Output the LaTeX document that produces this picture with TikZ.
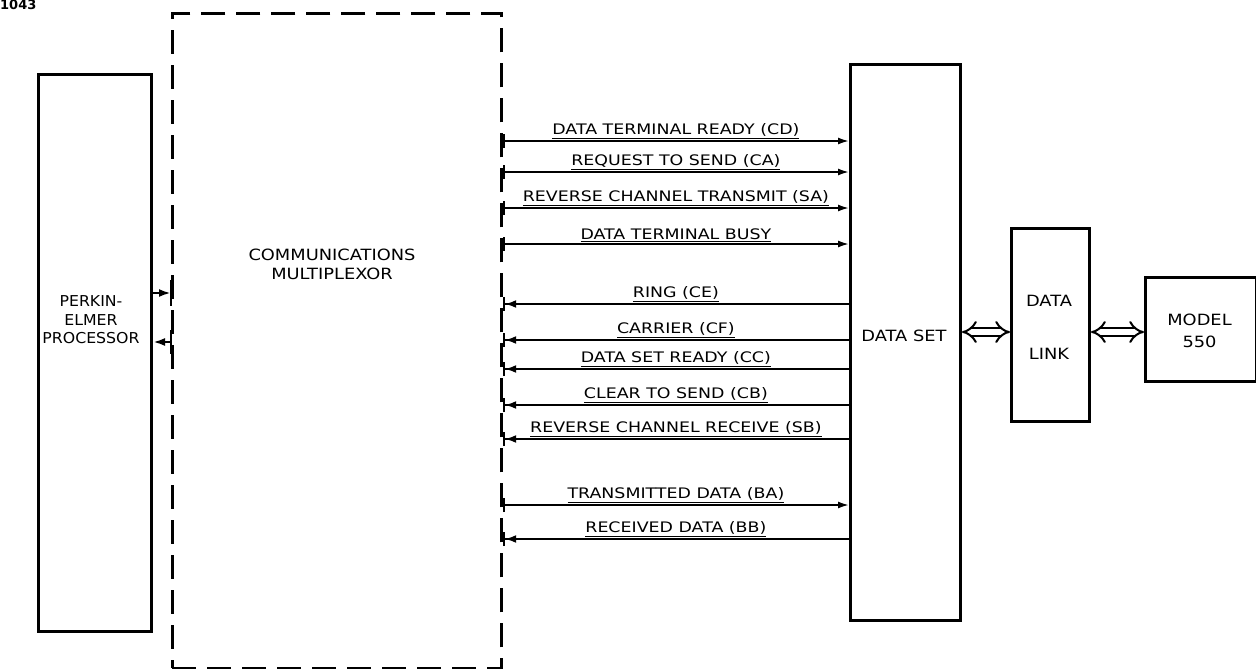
\documentclass[tikz,border=0pt]{standalone}
\usepackage{fontspec}
\setmainfont{DejaVu Sans}
\newfontfamily\sigfont[FakeStretch=1.2]{DejaVu Sans}
\newfontfamily\boxfont[FakeStretch=1.15]{DejaVu Sans}
\newfontfamily\procfont[FakeStretch=1.05]{DejaVu Sans}
\usetikzlibrary{arrows.meta}
\begin{document}
\begin{tikzpicture}[x=1pt,y=-1pt,
  box/.style={draw, line width=3pt, inner sep=0pt},
  lbl/.style={font=\boxfont\fontsize{15.5}{19}\selectfont, align=center},
  sig/.style={font=\sigfont\fontsize{14.5}{17}\selectfont, anchor=south, inner sep=1.5pt},
  outsig/.style={line width=1.8pt, {Bar[width=14pt,line width=2.4pt]}-{Latex[length=11pt,width=7pt]}},
  insig/.style={line width=1.8pt, {Bar[width=14pt,line width=2.4pt]Latex[length=11pt,width=8pt]}-},
  parr/.style={line width=2.4pt},
  dbl/.style={double, double distance=5.5pt, line width=2pt, {Implies}-{Implies}}
]
\useasboundingbox (0,0) rectangle (1256,669);
\node[font=\bfseries\fontsize{13}{16}\selectfont, anchor=north west, inner sep=0pt] (fig) at (0,0) {1043};
\node[box, minimum width=113pt, minimum height=557pt, anchor=north west] (proc) at (37,73) {};
\node[align=center, font=\procfont\fontsize{15}{18.5}\selectfont] (proct) at (91,320) {PERKIN-\\ELMER\\PROCESSOR};
\node[draw, line width=2.8pt, dash pattern=on 24pt off 11pt, minimum width=329pt, minimum height=655pt, anchor=north west, inner sep=0pt] (mux) at (171,12) {};
\node[lbl] (muxt) at (332,264) {COMMUNICATIONS\\MULTIPLEXOR};
\node[box, minimum width=110pt, minimum height=556pt, anchor=north west] (ds) at (849,63) {};
\node[lbl] (dst) at (904,336) {DATA SET};
\node[box, minimum width=78pt, minimum height=193pt, anchor=north west] (dl) at (1010,227) {};
\node[lbl] (dlt) at (1049,327) {DATA\\[34pt]LINK};
\node[box, minimum width=111pt, minimum height=104pt, anchor=north west] (m) at (1144,276) {};
\node[lbl, font=\boxfont\fontsize{15.5}{22}\selectfont] (mt) at (1199.5,331) {MODEL\\550};
% processor <-> mux
\draw[parr, -{Latex[length=12pt,width=8pt]}] (proc.east |- 0,293) -- (mux.west |- 0,293);
\draw[parr, {Latex[length=12pt,width=8pt]}-] (proc.east |- 0,342) -- (mux.west |- 0,342);
\draw[line width=2.8pt] (mux.west |- 0,280) -- (mux.west |- 0,306) (mux.west |- 0,330) -- (mux.west |- 0,354);
% outgoing signals
\foreach \y/\t/\n in {141/DATA TERMINAL READY (CD)/s1, 172/REQUEST TO SEND (CA)/s2, 208/REVERSE CHANNEL TRANSMIT (SA)/s3, 244/DATA TERMINAL BUSY/s4, 505/TRANSMITTED DATA (BA)/s10}
  \draw[outsig] (mux.east |- 0,\y) -- node[sig] (\n) {\underline{\t}} (ds.west |- 0,\y);
\foreach \y/\t/\n in {304/RING (CE)/s5, 340/CARRIER (CF)/s6, 369/DATA SET READY (CC)/s7, 405/CLEAR TO SEND (CB)/s8, 439/REVERSE CHANNEL RECEIVE (SB)/s9, 539/RECEIVED DATA (BB)/s11}
  \draw[insig] (mux.east |- 0,\y) -- node[sig] (\n) {\underline{\t}} (ds.west |- 0,\y);
% double arrows
\draw[dbl] (ds.east |- 0,332) -- (dl.west |- 0,332);
\draw[dbl] (dl.east |- 0,332) -- (m.west |- 0,332);
\end{tikzpicture}
\end{document}
